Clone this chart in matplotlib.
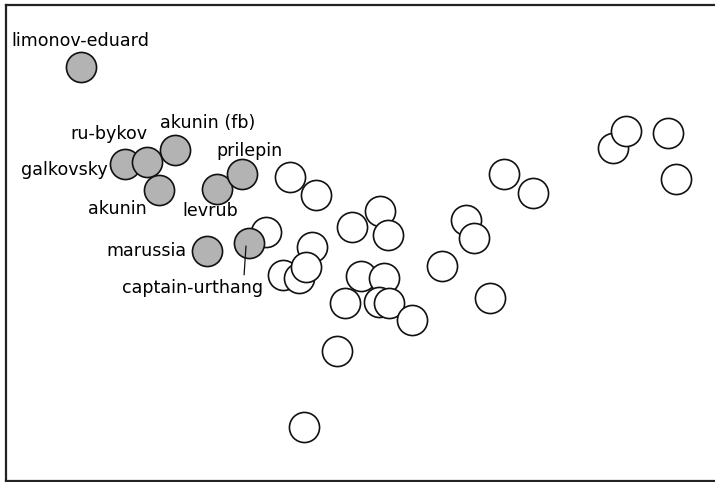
import matplotlib
matplotlib.use('Agg')
import matplotlib.pyplot as plt

# labelled authors (gray)
names = ['limonov-eduard', 'galkovsky', 'ru-bykov', 'akunin (fb)', 'akunin',
         'levrub', 'prilepin', 'marussia', 'captain-urthang']
gx = [81, 125, 147, 175, 159, 217, 242, 207, 249]
gy = [67, 164, 162, 150, 190, 189, 174, 251, 243]

# label placement (text centre)
lx = [80, 64, 109, 208, 117, 210, 250, 146, 193]
ly = [41, 170, 134, 123, 209, 211, 151, 251, 288]

# other points (white)
wx = [290, 316, 266, 352, 380, 388, 312, 283, 299, 306, 361, 384, 345, 379,
      389, 412, 442, 466, 474, 490, 337, 304, 504, 533, 613, 626, 668, 676]
wy = [177, 195, 232, 227, 211, 235, 247, 275, 278, 267, 276, 278, 303, 302,
      303, 320, 266, 220, 238, 298, 351, 427, 174, 193, 148, 131, 133, 179]

fig = plt.figure(figsize=(7.15, 4.82), dpi=100)
ax = fig.add_axes([6 / 715, 1 - 481 / 482, 1.1, 476 / 482])
ax.set_xlim(6, 6 + 1.1 * 715)
ax.set_ylim(481, 5)
ax.set_xticks([])
ax.set_yticks([])
for s in ax.spines.values():
    s.set_linewidth(1.6)
    s.set_color('#222222')

ax.scatter(wx, wy, s=470, facecolor='white', edgecolor='#111111',
           linewidth=1.2, zorder=2)
ax.scatter(gx, gy, s=470, facecolor='#b3b3b3', edgecolor='#111111',
           linewidth=1.2, zorder=3)

for i, n in enumerate(names):
    if n == 'captain-urthang':
        ax.annotate(n, xy=(gx[i] - 3, gy[i] + 3), xytext=(lx[i], ly[i]),
                    ha='center', va='center', fontsize=12.6,
                    arrowprops=dict(arrowstyle='-', color='#111111', lw=0.9,
                                    relpos=(0.86, 1.0), shrinkA=1,
                                    shrinkB=0), zorder=4)
    else:
        ax.text(lx[i], ly[i], n, ha='center', va='center', fontsize=12.6,
                zorder=4)

fig.savefig('out.png', dpi=100)
